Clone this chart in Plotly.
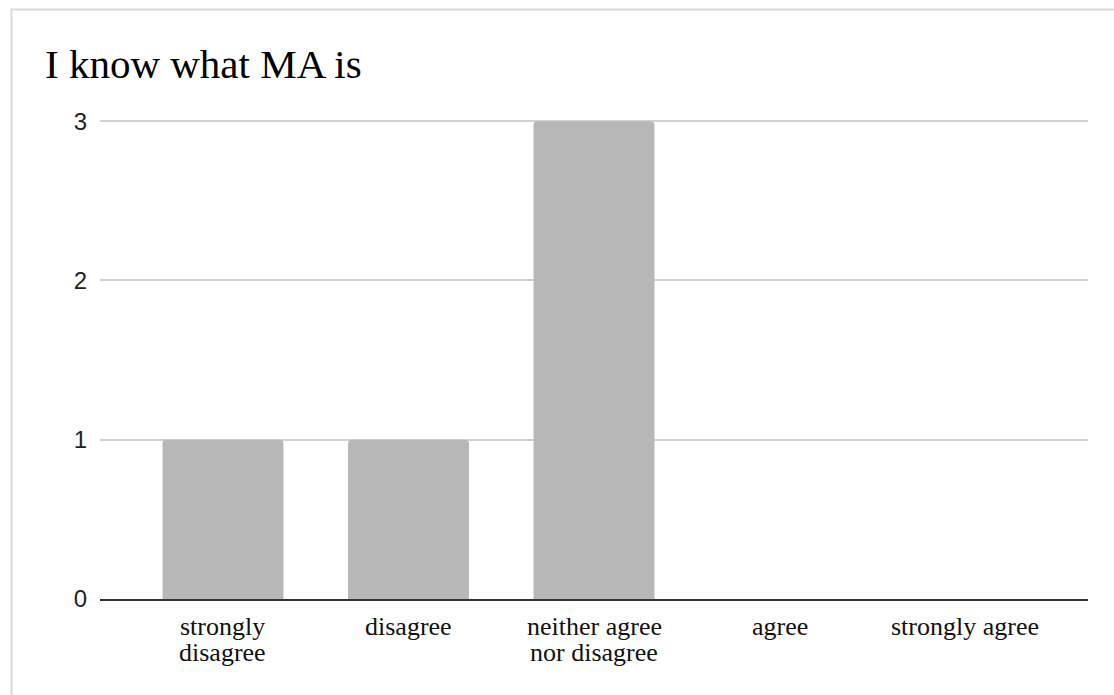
import plotly.graph_objects as go

# Survey responses for the statement "I know what MA is"
categories = ["strongly disagree", "disagree", "neither agree nor disagree", "agree", "strongly agree"]
label_lines = [["strongly", "disagree"], ["disagree"], ["neither agree", "nor disagree"], ["agree"], ["strongly agree"]]
counts = [1, 1, 3, 0, 0]
y_ticks = [0, 1, 2, 3]

W, H = 1114, 695
L, R, T, B = 100, 26, 118, 96
plot_w = W - L - R
plot_h = H - T - B

fig = go.Figure(
    go.Bar(
        x=categories,
        y=counts,
        marker=dict(color="#b7b7b7", cornerradius=4, line=dict(width=0)),
        hoverinfo="x+y",
    )
)

# light frame around the chart (left and top edges visible)
fx0 = (11.5 - L) / plot_w
fy1 = (H - B - 9.5) / plot_h
fig.add_shape(type="rect", xref="paper", yref="paper",
              x0=fx0, x1=2, y0=-2, y1=fy1,
              line=dict(color="#d9d9d9", width=2), fillcolor="rgba(0,0,0,0)", layer="below")

# category labels, one text line per annotation for tight line spacing
first_line_px = 27   # distance below the baseline to the first line's centre
line_step_px = 26
for cat, lines in zip(categories, label_lines):
    for i, line in enumerate(lines):
        fig.add_annotation(
            x=cat, xref="x",
            y=-(first_line_px + i * line_step_px) / plot_h, yref="paper",
            text=line, showarrow=False,
            xanchor="center", yanchor="middle",
            font=dict(family="Liberation Serif", size=26, color="#111"),
        )

fig.update_layout(
    width=W, height=H,
    margin=dict(l=L, r=R, t=T, b=B, pad=0),
    paper_bgcolor="white", plot_bgcolor="white",
    bargap=0.348,
    showlegend=False,
    title=dict(
        text="I know what MA is",
        font=dict(family="Liberation Serif", size=41, color="#000"),
        xref="container", x=45 / W, xanchor="left",
        yref="container", y=1 - 64 / H, yanchor="middle",
    ),
    xaxis=dict(
        type="category",
        categoryorder="array", categoryarray=categories,
        range=[-0.663, 4.663],
        showgrid=False,
        showline=True, linecolor="#333333", linewidth=1.5,
        layer="below traces",
        ticks="",
        showticklabels=False,
        fixedrange=True,
    ),
    yaxis=dict(
        range=[0, 3.02],
        tickvals=y_ticks,
        showgrid=True, gridcolor="#d0d0d0", gridwidth=1.5,
        zeroline=False,
        showline=False,
        ticks="",
        tickfont=dict(family="Liberation Sans", size=24, color="#222"),
        ticklabelstandoff=12,
        fixedrange=True,
    ),
)

fig.write_html("out.html")
